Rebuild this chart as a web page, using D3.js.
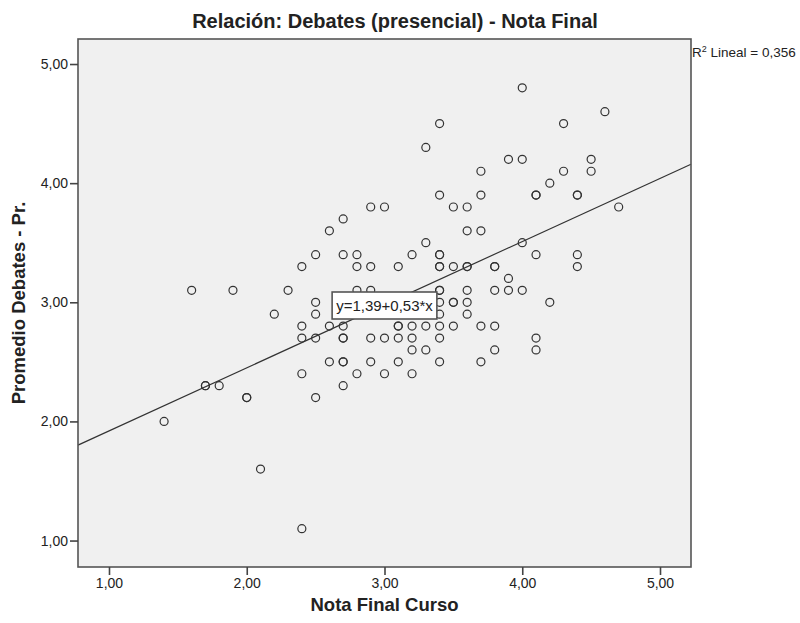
<!DOCTYPE html>
<html>
<head>
<meta charset="utf-8">
<script src="https://cdn.jsdelivr.net/npm/d3@7"></script>
<style>
    body { margin: 0; background: #fff; }
    text { font-family: "Liberation Sans", Arial, sans-serif; fill: #222; }
</style>
</head>
<body>
<div id="chart"></div>
<script>
// Nota Final Curso (x) and Promedio Debates - Pr. (y), one entry per student
var notaFinal = [1.4, 1.6, 1.7, 1.7, 1.8, 1.9, 2.0, 2.0, 2.1, 2.2, 2.3,
    2.4, 2.4, 2.4, 2.4, 2.4, 2.5, 2.5, 2.5, 2.5, 2.5, 2.6, 2.6, 2.6,
    2.7, 2.7, 2.7, 2.7, 2.7, 2.7, 2.7, 2.7, 2.8, 2.8, 2.8, 2.8,
    2.9, 2.9, 2.9, 2.9, 2.9, 3.0, 3.0, 3.0, 3.1, 3.1, 3.1, 3.1, 3.1,
    3.2, 3.2, 3.2, 3.2, 3.2, 3.3, 3.3, 3.3, 3.3,
    3.4, 3.4, 3.4, 3.4, 3.4, 3.4, 3.4, 3.4, 3.4, 3.4, 3.4, 3.4, 3.4,
    3.5, 3.5, 3.5, 3.5, 3.5, 3.6, 3.6, 3.6, 3.6, 3.6, 3.6, 3.6,
    3.7, 3.7, 3.7, 3.7, 3.7, 3.8, 3.8, 3.8, 3.8, 3.8, 3.9, 3.9, 3.9,
    4.0, 4.0, 4.0, 4.0, 4.1, 4.1, 4.1, 4.1, 4.1, 4.2, 4.2, 4.3, 4.3,
    4.4, 4.4, 4.4, 4.4, 4.5, 4.5, 4.6, 4.7];

var debates = [2.0, 3.1, 2.3, 2.3, 2.3, 3.1, 2.2, 2.2, 1.6, 2.9, 3.1,
    3.3, 2.8, 2.7, 2.4, 1.1, 3.4, 3.0, 2.9, 2.7, 2.2, 3.6, 2.8, 2.5,
    3.7, 3.4, 2.8, 2.7, 2.7, 2.5, 2.5, 2.3, 3.4, 3.3, 3.1, 2.4,
    3.8, 3.3, 3.1, 2.7, 2.5, 3.8, 2.7, 2.4, 3.3, 2.8, 2.8, 2.7, 2.5,
    3.4, 2.8, 2.7, 2.6, 2.4, 4.3, 3.5, 2.8, 2.6,
    4.5, 3.9, 3.4, 3.4, 3.3, 3.3, 3.1, 3.1, 3.0, 2.9, 2.8, 2.7, 2.5,
    3.8, 3.3, 3.0, 3.0, 2.8, 3.8, 3.6, 3.3, 3.3, 3.1, 3.0, 2.9,
    4.1, 3.9, 3.6, 2.8, 2.5, 3.3, 3.3, 3.1, 2.8, 2.6, 4.2, 3.2, 3.1,
    4.8, 4.2, 3.5, 3.1, 3.9, 3.9, 3.4, 2.7, 2.6, 4.0, 3.0, 4.5, 4.1,
    3.9, 3.9, 3.4, 3.3, 4.2, 4.1, 4.6, 3.8];

var xTicks = [1, 2, 3, 4, 5];
var yTicks = [1, 2, 3, 4, 5];

// linear fit reported by SPSS
var fitIntercept = 1.39;
var fitSlope = 0.53;
var fitLabel = "y=1,39+0,53*x";
var r2Value = "0,356";

var titleText = "Relación: Debates (presencial) - Nota Final";
var xTitle = "Nota Final Curso";
var yTitle = "Promedio Debates - Pr.";

function init() {
    var w = 800;
    var h = 623;
    var left = 78, right = 691, top = 39, bottom = 567;

    var comma = function(v) { return d3.format(".2f")(v).replace(".", ","); };

    var x = d3.scaleLinear()
            .domain([0.775, 5.225])
            .range([left, right]);

    var y = d3.scaleLinear()
            .domain([0.778, 5.21])
            .range([bottom, top]);

    var svg = d3.select("#chart")
            .append("svg")
            .attr("width", w)
            .attr("height", h);

    //plot background
    svg.append("rect")
        .attr("x", left)
        .attr("y", top)
        .attr("width", right - left)
        .attr("height", bottom - top)
        .style("fill", "#f0f0f0");

    //points, drawn as open circles
    svg.append("g")
        .selectAll("circle")
        .data(notaFinal)
        .enter()
        .append("circle")
        .attr("cx", function(d) { return x(d); })
        .attr("cy", function(d, i) { return y(debates[i]); })
        .attr("r", 4)
        .style("fill", "none")
        .style("stroke", "#333")
        .style("stroke-width", 1.2);

    //regression line across the whole x range
    var xd = x.domain();
    svg.append("line")
        .attr("x1", x(xd[0]))
        .attr("y1", y(fitIntercept + fitSlope * xd[0]))
        .attr("x2", x(xd[1]))
        .attr("y2", y(fitIntercept + fitSlope * xd[1]))
        .style("stroke", "#333")
        .style("stroke-width", 1.2);

    //frame
    svg.append("rect")
        .attr("x", left)
        .attr("y", top)
        .attr("width", right - left)
        .attr("height", bottom - top)
        .style("fill", "none")
        .style("stroke", "#555")
        .style("stroke-width", 1.6);

    //axes
    var xAxis = d3.axisBottom(x).tickValues(xTicks).tickFormat(comma).tickSizeOuter(0).tickSize(8).tickPadding(3);
    var yAxis = d3.axisLeft(y).tickValues(yTicks).tickFormat(comma).tickSizeOuter(0).tickSize(8).tickPadding(2);

    var gx = svg.append("g")
        .attr("transform", "translate(0," + bottom + ")")
        .call(xAxis);
    var gy = svg.append("g")
        .attr("transform", "translate(" + left + ",0)")
        .call(yAxis);

    [gx, gy].forEach(function(g) {
        g.select(".domain").remove();
        g.selectAll(".tick line").style("stroke", "#444").style("stroke-width", 1.6);
        g.selectAll(".tick text")
            .style("font-family", "Liberation Sans, Arial, sans-serif")
            .style("font-size", "14px")
            .style("fill", "#222");
    });

    //equation label at the middle of the plot
    var cx = (left + right) / 2;
    var cy = (top + bottom) / 2 + 2;
    var lbl = svg.append("g");
    var box = lbl.append("rect");
    var t = lbl.append("text")
        .attr("x", cx)
        .attr("y", cy + 5.5)
        .attr("text-anchor", "middle")
        .style("font-size", "15px")
        .text(fitLabel);
    var tw = t.node().getComputedTextLength();
    box.attr("x", cx - tw / 2 - 4)
        .attr("y", cy - 13)
        .attr("width", tw + 8)
        .attr("height", 27)
        .style("fill", "#fff")
        .style("stroke", "#555")
        .style("stroke-width", 1.6);

    //R2 note
    var r2 = svg.append("text")
        .attr("x", right + 1)
        .attr("y", 57)
        .style("font-size", "13.5px");
    r2.append("tspan").text("R");
    r2.append("tspan").attr("dy", -5).style("font-size", "9px").text("2");
    r2.append("tspan").attr("dy", 5).text(" Lineal = " + r2Value);

    //titles
    svg.append("text")
        .attr("x", 395)
        .attr("y", 28)
        .attr("text-anchor", "middle")
        .style("font-size", "20px")
        .style("font-weight", "bold")
        .text(titleText);

    svg.append("text")
        .attr("x", cx)
        .attr("y", 611)
        .attr("text-anchor", "middle")
        .style("font-size", "18.5px")
        .style("font-weight", "bold")
        .text(xTitle);

    svg.append("text")
        .attr("transform", "translate(25," + ((top + bottom) / 2) + ") rotate(-90)")
        .attr("text-anchor", "middle")
        .style("font-size", "18.5px")
        .style("font-weight", "bold")
        .text(yTitle);
}

window.onload = init;
</script>
</body>
</html>
